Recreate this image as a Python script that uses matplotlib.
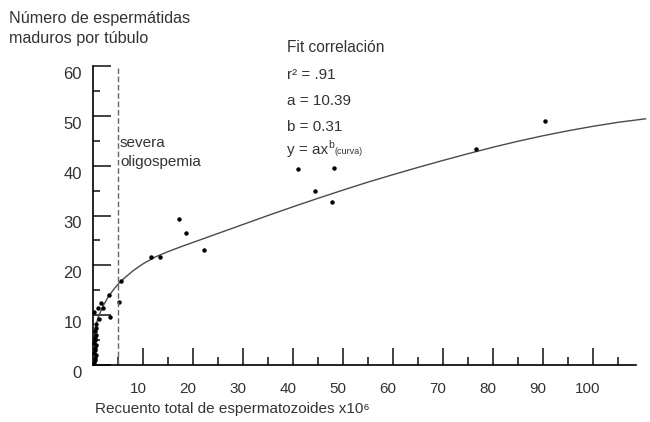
import numpy as np
import matplotlib.pyplot as plt
from matplotlib.transforms import ScaledTranslation

plt.rcParams['font.family'] = ['Liberation Sans', 'DejaVu Sans']

# puntos medidos (recuento x10^6, espermátidas por túbulo)
recuento = [0.2, 0.4, 0.3, 0.5, 0.2, 0.4, 0.3, 0.5, 0.2, 0.4, 0.3, 0.6, 0.4, 0.5,
            0.1, 0.6, 0.9, 1.1, 1.5, 1.9, 3.4, 3.1, 5.1, 5.6,
            11.5, 13.4, 17.1, 18.5, 22.1,
            40.9, 48.2, 44.4, 47.7, 76.5, 90.3]
espermatidas = [0.5, 1.0, 1.5, 2.0, 2.5, 3.0, 3.5, 4.0, 4.5, 5.0, 5.5, 6.0, 6.8, 7.5,
                10.7, 8.3, 11.4, 9.2, 12.5, 11.4, 9.6, 14.0, 12.7, 16.9,
                21.7, 21.7, 29.3, 26.4, 23.1,
                39.4, 39.5, 35.0, 32.8, 43.3, 48.9]

# curva de ajuste
curva_x = [0.2, 0.5, 1, 2, 3, 4, 5, 6, 8, 10, 12.5, 15, 17.5, 20, 25, 30, 35, 40,
           45, 50, 55, 60, 65, 70, 75, 80, 85, 90, 95, 100, 105, 110.5]
curva_y = [5.5, 7.5, 9.5, 11.8, 13.6, 15.0, 16.2, 17.2, 18.9, 20.3, 21.7, 22.75,
           23.7, 24.6, 26.4, 28.2, 30.0, 31.75, 33.45, 35.1, 36.7, 38.2, 39.65,
           41.05, 42.4, 43.7, 44.9, 46.0, 47.0, 47.9, 48.7, 49.4]

umbral = 5
xticks = list(range(10, 101, 10))
yticks = list(range(0, 61, 10))

gris = '#333333'

fig = plt.figure(figsize=(6.5, 4.22), dpi=100)
ax = fig.add_axes([93/650, 1 - 365/422, 543/650, 299/422])

ax.plot(curva_x, curva_y, color='#4a4a4a', lw=1.0, clip_on=False)
ax.plot(recuento, espermatidas, 'o', color='black', ms=3.2, mec='none', clip_on=False)
ax.plot([umbral, umbral], [0, 59.6], color='#666666', lw=1.0, ls=(0, (4, 2)))

ax.set_xlim(0, 108.6)
ax.set_ylim(0, 60)
ax.spines['top'].set_visible(False)
ax.spines['right'].set_visible(False)
ax.spines['left'].set_linewidth(1.2)
ax.spines['bottom'].set_linewidth(1.2)

ax.set_xticks(xticks)
ax.set_xticks(np.arange(5, 106, 10), minor=True)
ax.set_yticks(yticks)
ax.set_yticks(np.arange(5, 56, 10), minor=True)
ax.tick_params(which='both', direction='in', width=1.2, color='#222222',
               labelcolor=gris)
ax.tick_params(axis='x', which='major', length=12, pad=12, labelsize=11)
ax.tick_params(axis='x', which='minor', length=5.5)
ax.tick_params(axis='y', which='major', length=13, pad=8, labelsize=12)
ax.tick_params(axis='y', which='minor', length=5)

# etiquetas algo desplazadas como en el original
for lab in ax.get_xticklabels():
    lab.set_transform(lab.get_transform() + ScaledTranslation(-0.05, 0, fig.dpi_scale_trans))
for lab in ax.get_yticklabels():
    lab.set_transform(lab.get_transform() + ScaledTranslation(0, -0.07, fig.dpi_scale_trans))

def px(x, y):
    return x / 650, 1 - y / 422

fig.text(*px(9, 23), 'Número de espermátidas', fontsize=11.6, color=gris)
fig.text(*px(9, 43), 'maduros por túbulo', fontsize=11.6, color=gris)
fig.text(*px(95, 413), 'Recuento total de espermatozoides x10⁶', fontsize=11, color=gris)

fig.text(*px(120, 147), 'severa', fontsize=11, color=gris)
fig.text(*px(120, 166), 'oligospemia', fontsize=11, color=gris)

fig.text(*px(287, 52), 'Fit correlación', fontsize=11.2, color=gris)
fig.text(*px(287, 79), 'r² = .91', fontsize=11, color=gris)
fig.text(*px(287, 105), 'a = 10.39', fontsize=11, color=gris)
fig.text(*px(287, 131), 'b = 0.31', fontsize=11, color=gris)
fig.text(*px(287, 154), 'y = ax', fontsize=11, color=gris)
fig.text(*px(328, 148), 'b', fontsize=7.5, color=gris)
fig.text(*px(335, 154), '(curva)', fontsize=6.5, color=gris)

fig.savefig('out.png', dpi=100)
